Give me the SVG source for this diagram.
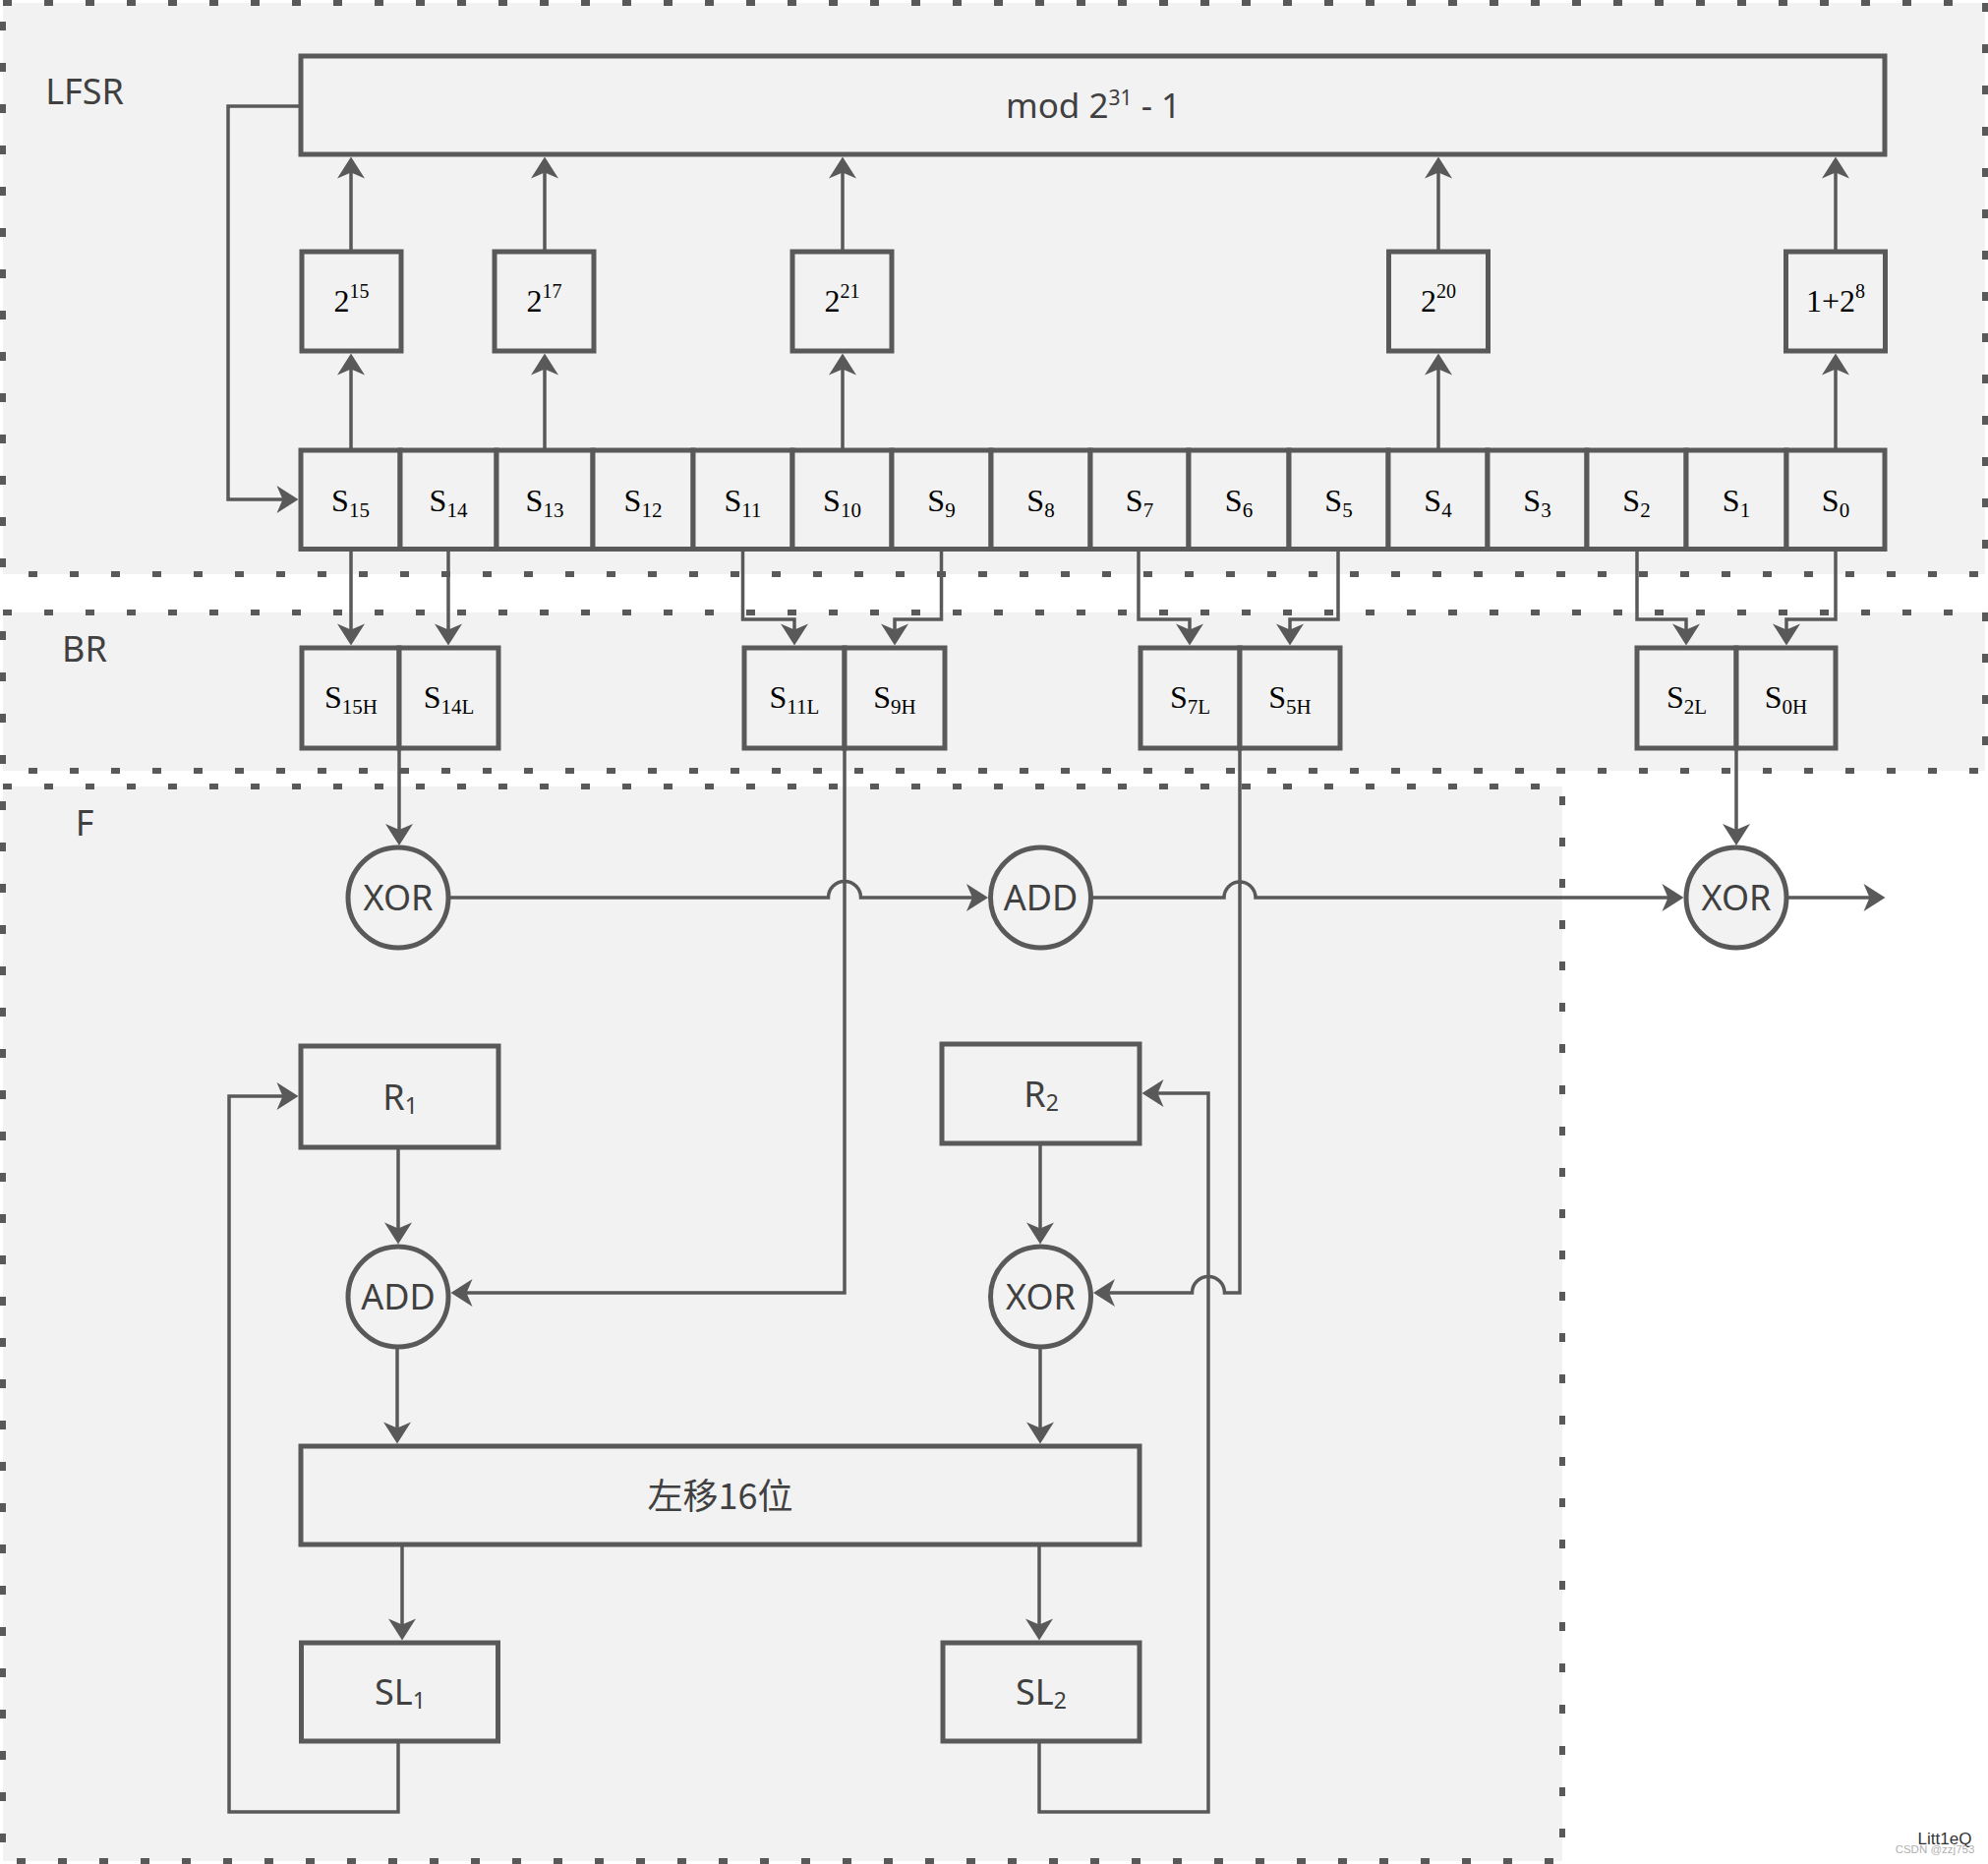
<svg xmlns="http://www.w3.org/2000/svg" width="2022" height="1896" viewBox="0 0 2022 1896">
<style>
.region{fill:#f2f2f2;stroke:#595959;stroke-width:6;stroke-dasharray:9 33}
.box{fill:#f2f2f2;stroke:#595959;stroke-width:5}
.conn{fill:none;stroke:#595959;stroke-width:3.5}
.arr{marker-end:url(#ah)}
.sans{font-family:"Noto Sans","Open Sans",sans-serif;fill:#404040;text-anchor:middle}
.lbl{font-size:36px}
.op{font-size:36px}
.serif{font-family:"Liberation Serif","Times New Roman",serif;fill:#000;text-anchor:middle;font-size:32px}
.sub{font-size:21px}
.sup{font-size:20px}
.cjk{font-family:"Noto Sans CJK SC","Noto Sans",sans-serif;fill:#404040;text-anchor:middle;font-size:36px}
</style>
<defs>
<marker id="ah" markerUnits="userSpaceOnUse" markerWidth="40" markerHeight="40" viewBox="-20 -20 40 40" refX="0" refY="0" orient="auto">
<path d="M6,0 L-16,-14 L-10,0 L-16,14 Z" fill="#595959"/>
</marker>
</defs>
<rect width="2022" height="1896" fill="#ffffff"/>
<g id="regions">
<rect id="region-lfsr" class="region" x="3" y="3" width="2016" height="581"/>
<rect id="region-br" class="region" x="3" y="623" width="2016" height="161"/>
<rect id="region-f" class="region" x="3" y="800" width="1586" height="1093"/>
<text class="sans lbl" x="86" y="106">LFSR</text>
<text class="sans lbl" x="86" y="673">BR</text>
<text class="sans lbl" x="86" y="850">F</text>
</g>
<g id="connectors">
<path class="conn arr" d="M306,108 H232 V508 H297.5"/>
<path class="conn arr" d="M357,458 V365.5"/>
<path class="conn arr" d="M554,458 V365.5"/>
<path class="conn arr" d="M857,458 V365.5"/>
<path class="conn arr" d="M1463,458 V365.5"/>
<path class="conn arr" d="M1867,458 V365.5"/>
<path class="conn arr" d="M357,256 V165.5"/>
<path class="conn arr" d="M554,256 V165.5"/>
<path class="conn arr" d="M857,256 V165.5"/>
<path class="conn arr" d="M1463,256 V165.5"/>
<path class="conn arr" d="M1867,256 V165.5"/>
<path class="conn arr" d="M357,558 V650.5"/>
<path class="conn arr" d="M456,558 V650.5"/>
<path class="conn arr" d="M755.5,558 V630 H808 V650.5"/>
<path class="conn arr" d="M957.5,558 V630 H910 V650.5"/>
<path class="conn arr" d="M1158,558 V630 H1210 V650.5"/>
<path class="conn arr" d="M1361,558 V630 H1312 V650.5"/>
<path class="conn arr" d="M1665,558 V630 H1715 V650.5"/>
<path class="conn arr" d="M1867,558 V630 H1817 V650.5"/>
<path class="conn arr" d="M406,761 V854"/>
<path class="conn arr" d="M1766,761 V854"/>
<path class="conn arr" d="M456,913 H842.5 A16.5,16.5 0 0 1 875.5,913 H999"/>
<path class="conn arr" d="M1110,913 H1245 A16,16 0 0 1 1277,913 H1706.5"/>
<path class="conn arr" d="M1817,913 H1911.5"/>
<path class="conn arr" d="M859,761 V1315 H464.5"/>
<path class="conn arr" d="M1261,761 V1315 H1245.5 A16.5,16.5 0 0 0 1212.5,1315 H1118"/>
<path class="conn arr" d="M405,1167 V1259.5"/>
<path class="conn arr" d="M1058,1163 V1259.5"/>
<path class="conn arr" d="M404,1370 V1462.5"/>
<path class="conn arr" d="M1058,1370 V1462.5"/>
<path class="conn arr" d="M409,1571 V1662.5"/>
<path class="conn arr" d="M1057,1571 V1662.5"/>
<path class="conn arr" d="M405,1771 V1843 H233 V1115 H297.5"/>
<path class="conn arr" d="M1057,1771 V1843 H1229 V1112 H1167.5"/>
</g>
<g id="node-mod">
<rect class="box" x="306" y="57" width="1611" height="100"/>
<text class="sans" font-size="35" x="1112" y="120">mod 2<tspan font-size="21" dy="-13">31</tspan><tspan dy="13"> - 1</tspan></text>
</g>
<g id="node-c15"><rect class="box" x="307" y="256" width="101" height="101"/><text class="serif" x="357.5" y="316.5">2<tspan class="sup" dy="-14">15</tspan></text></g>
<g id="node-c17"><rect class="box" x="503" y="256" width="101" height="101"/><text class="serif" x="553.5" y="316.5">2<tspan class="sup" dy="-14">17</tspan></text></g>
<g id="node-c21"><rect class="box" x="806" y="256" width="101" height="101"/><text class="serif" x="856.5" y="316.5">2<tspan class="sup" dy="-14">21</tspan></text></g>
<g id="node-c20"><rect class="box" x="1412.5" y="256" width="101" height="101"/><text class="serif" x="1463" y="316.5">2<tspan class="sup" dy="-14">20</tspan></text></g>
<g id="node-c8"><rect class="box" x="1816.5" y="256" width="101" height="101"/><text class="serif" x="1867" y="316.5">1+2<tspan class="sup" dy="-14">8</tspan></text></g>
<g id="node-register">
<rect class="box" x="306" y="458" width="101" height="100.5"/>
<rect class="box" x="407" y="458" width="98" height="100.5"/>
<rect class="box" x="505" y="458" width="98" height="100.5"/>
<rect class="box" x="603" y="458" width="102" height="100.5"/>
<rect class="box" x="705" y="458" width="101" height="100.5"/>
<rect class="box" x="806" y="458" width="101" height="100.5"/>
<rect class="box" x="907" y="458" width="101" height="100.5"/>
<rect class="box" x="1008" y="458" width="101" height="100.5"/>
<rect class="box" x="1109" y="458" width="100" height="100.5"/>
<rect class="box" x="1209" y="458" width="102" height="100.5"/>
<rect class="box" x="1311" y="458" width="101" height="100.5"/>
<rect class="box" x="1412" y="458" width="101" height="100.5"/>
<rect class="box" x="1513" y="458" width="101" height="100.5"/>
<rect class="box" x="1614" y="458" width="101" height="100.5"/>
<rect class="box" x="1715" y="458" width="102" height="100.5"/>
<rect class="box" x="1817" y="458" width="100" height="100.5"/>
<text class="serif" x="356.5" y="519.5">S<tspan class="sub" dy="6.5">15</tspan></text>
<text class="serif" x="456" y="519.5">S<tspan class="sub" dy="6.5">14</tspan></text>
<text class="serif" x="554" y="519.5">S<tspan class="sub" dy="6.5">13</tspan></text>
<text class="serif" x="654" y="519.5">S<tspan class="sub" dy="6.5">12</tspan></text>
<text class="serif" x="755.5" y="519.5">S<tspan class="sub" dy="6.5">11</tspan></text>
<text class="serif" x="856.5" y="519.5">S<tspan class="sub" dy="6.5">10</tspan></text>
<text class="serif" x="957.5" y="519.5">S<tspan class="sub" dy="6.5">9</tspan></text>
<text class="serif" x="1058.5" y="519.5">S<tspan class="sub" dy="6.5">8</tspan></text>
<text class="serif" x="1159" y="519.5">S<tspan class="sub" dy="6.5">7</tspan></text>
<text class="serif" x="1260" y="519.5">S<tspan class="sub" dy="6.5">6</tspan></text>
<text class="serif" x="1361.5" y="519.5">S<tspan class="sub" dy="6.5">5</tspan></text>
<text class="serif" x="1462.5" y="519.5">S<tspan class="sub" dy="6.5">4</tspan></text>
<text class="serif" x="1563.5" y="519.5">S<tspan class="sub" dy="6.5">3</tspan></text>
<text class="serif" x="1664.5" y="519.5">S<tspan class="sub" dy="6.5">2</tspan></text>
<text class="serif" x="1766" y="519.5">S<tspan class="sub" dy="6.5">1</tspan></text>
<text class="serif" x="1867" y="519.5">S<tspan class="sub" dy="6.5">0</tspan></text>
</g>
<g id="node-br1">
<rect class="box" x="307" y="659" width="99" height="102"/>
<rect class="box" x="406" y="659" width="101" height="102"/>
<text class="serif" x="357" y="720">S<tspan class="sub" dy="6">15H</tspan></text>
<text class="serif" x="456.5" y="720">S<tspan class="sub" dy="6">14L</tspan></text>
</g>
<g id="node-br2">
<rect class="box" x="757" y="659" width="102" height="102"/>
<rect class="box" x="859" y="659" width="102" height="102"/>
<text class="serif" x="808" y="720">S<tspan class="sub" dy="6">11L</tspan></text>
<text class="serif" x="910" y="720">S<tspan class="sub" dy="6">9H</tspan></text>
</g>
<g id="node-br3">
<rect class="box" x="1160" y="659" width="101" height="102"/>
<rect class="box" x="1261" y="659" width="102" height="102"/>
<text class="serif" x="1210.5" y="720">S<tspan class="sub" dy="6">7L</tspan></text>
<text class="serif" x="1312" y="720">S<tspan class="sub" dy="6">5H</tspan></text>
</g>
<g id="node-br4">
<rect class="box" x="1665" y="659" width="101" height="102"/>
<rect class="box" x="1766" y="659" width="101" height="102"/>
<text class="serif" x="1715.5" y="720">S<tspan class="sub" dy="6">2L</tspan></text>
<text class="serif" x="1816.5" y="720">S<tspan class="sub" dy="6">0H</tspan></text>
</g>
<g id="node-xor1"><circle class="box" cx="405" cy="913" r="51"/><text class="sans op" x="405" y="926">XOR</text></g>
<g id="node-add1"><circle class="box" cx="1058.5" cy="913" r="51"/><text class="sans op" x="1058.5" y="926">ADD</text></g>
<g id="node-xor2"><circle class="box" cx="1766" cy="913" r="51"/><text class="sans op" x="1766" y="926">XOR</text></g>
<g id="node-r1"><rect class="box" x="306" y="1064" width="201" height="103"/><text class="sans lbl" x="407" y="1129">R<tspan font-size="23" dy="4">1</tspan></text></g>
<g id="node-r2"><rect class="box" x="958" y="1062" width="201" height="101"/><text class="sans lbl" x="1059" y="1126">R<tspan font-size="23" dy="4">2</tspan></text></g>
<g id="node-add2"><circle class="box" cx="405" cy="1319" r="51"/><text class="sans op" x="405" y="1332">ADD</text></g>
<g id="node-xor3"><circle class="box" cx="1058.5" cy="1319" r="51"/><text class="sans op" x="1058.5" y="1332">XOR</text></g>
<g id="node-shift"><rect class="box" x="306" y="1471" width="853" height="100"/><text class="cjk" x="732.5" y="1535">左移16位</text></g>
<g id="node-sl1"><rect class="box" x="306.5" y="1671" width="200" height="100"/><text class="sans lbl" x="407" y="1734">SL<tspan font-size="23" dy="4">1</tspan></text></g>
<g id="node-sl2"><rect class="box" x="959" y="1671" width="200" height="100"/><text class="sans lbl" x="1059" y="1734">SL<tspan font-size="23" dy="4">2</tspan></text></g>
<g id="watermark">
<text x="1978" y="1876" font-family="Liberation Sans, Arial, sans-serif" font-size="17" fill="#333" text-anchor="middle">Litt1eQ</text>
<text x="1968" y="1885" font-family="Liberation Sans, Arial, sans-serif" font-size="11.5" fill="#999" fill-opacity="0.8" text-anchor="middle">CSDN @zzj753</text>
</g>
</svg>
